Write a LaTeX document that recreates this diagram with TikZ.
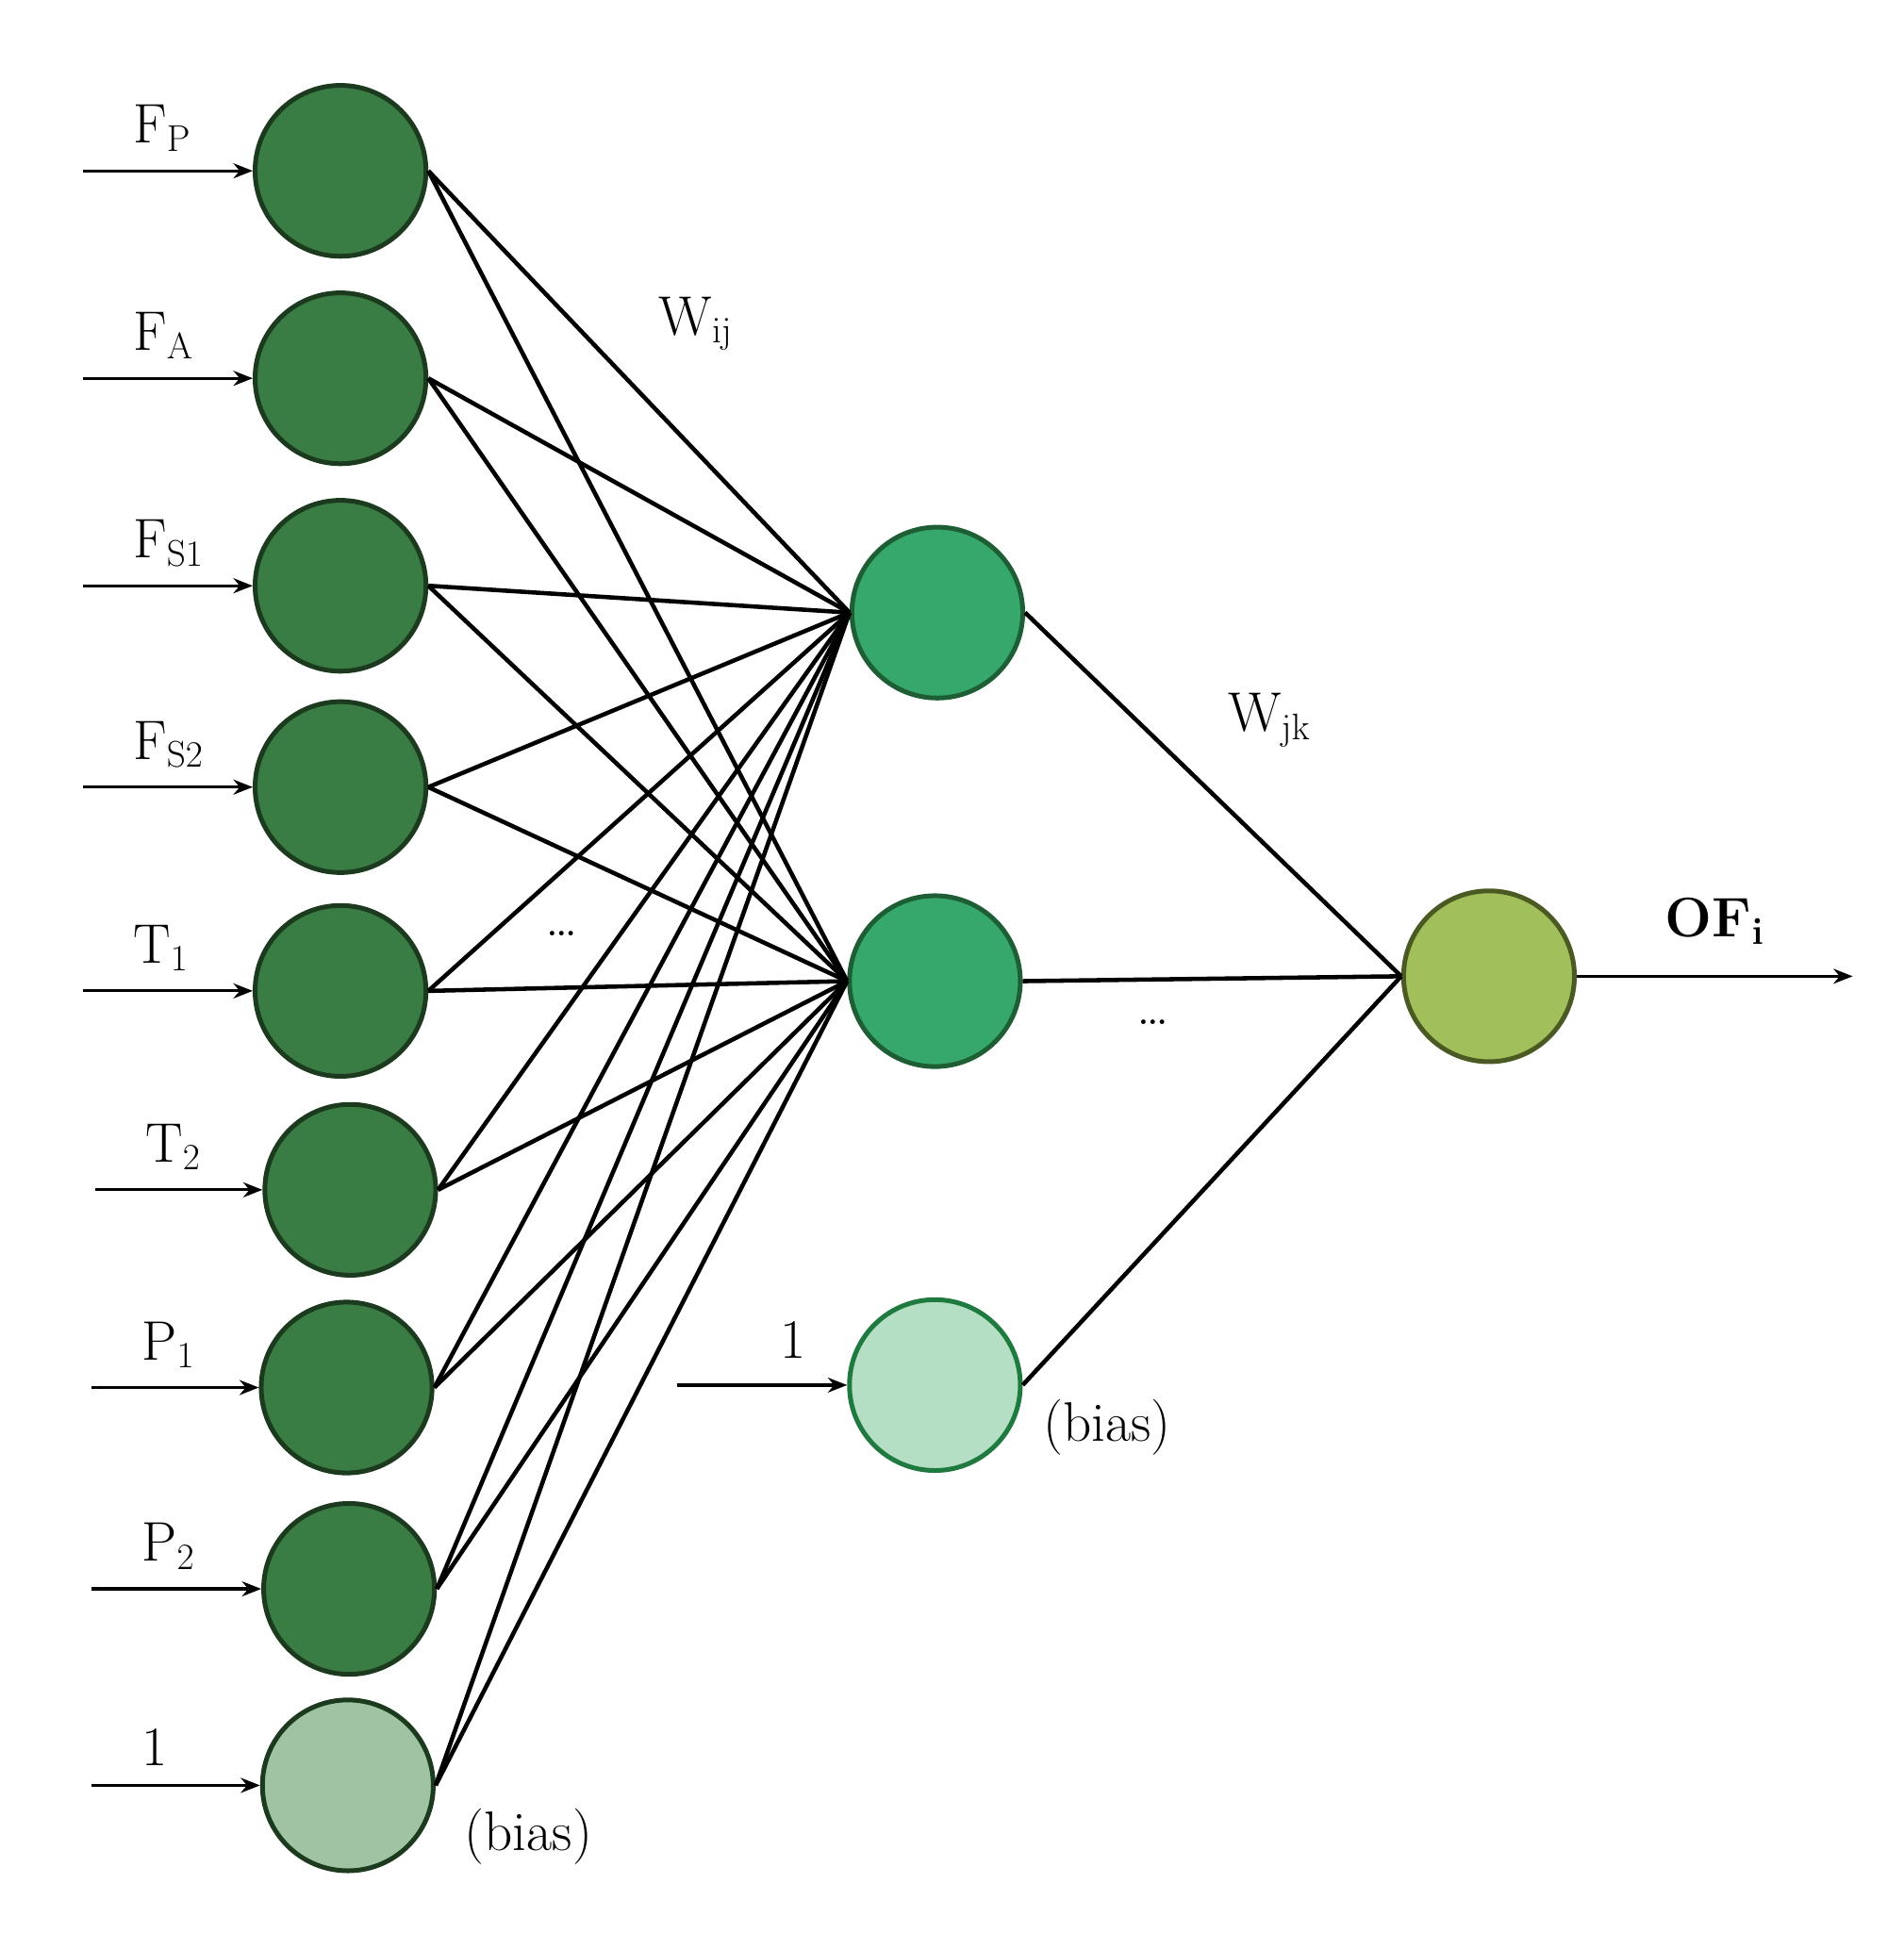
\documentclass[tikz,border=0pt]{standalone}
\usetikzlibrary{arrows.meta}
\definecolor{inp}{HTML}{3A7D44}
\definecolor{inpb}{HTML}{1B3A1E}
\definecolor{hid}{HTML}{36A86B}
\definecolor{hidb}{HTML}{1E5E35}
\definecolor{ib}{HTML}{A0C3A3}
\definecolor{hb}{HTML}{B4DFC4}
\definecolor{hbb}{HTML}{1F7A3F}
\definecolor{outc}{HTML}{A1C05B}
\definecolor{outb}{HTML}{4A5A22}
\begin{document}
\begin{tikzpicture}[x=0.02cm,y=-0.02cm,
  neu/.style={circle,minimum size=140*0.02cm,inner sep=0pt,line width=2.2pt},
  lab/.style={font=\fontsize{26}{28}\selectfont},
  w/.style={line width=2pt},
  arr/.style={line width=1.4pt,-{Stealth[length=9pt,width=7pt]}}]
\useasboundingbox (0,0) rectangle (1560,1584);
\foreach \n/\x/\y in {1/279/140,2/279/310,3/279/480,4/279/645,5/279/812,6/287/975,7/284/1137,8/286/1302}
  \node[neu,fill=inp,draw=inpb] (i\n) at (\x,\y) {};
\node[neu,fill=ib,draw=inpb] (i9) at (285,1463) {};
\node[neu,fill=hid,draw=hidb] (h1) at (768,502) {};
\node[neu,fill=hid,draw=hidb] (h2) at (766,804) {};
\node[neu,fill=hb,draw=hbb] (h3) at (766,1135) {};
\node[neu,fill=outc,draw=outb] (o) at (1220,800) {};
\foreach \n in {1,...,9}{\draw[w] (i\n.east) -- (h1.west); \draw[w] (i\n.east) -- (h2.west);}
\foreach \n in {1,2,3}{\draw[w] (h\n.east) -- (o.west);}
\foreach \n/\y/\x/\t in {1/140/68/{F$_{\mathrm P}$},2/310/68/{F$_{\mathrm A}$},3/480/68/{F$_{\mathrm{S1}}$},4/645/68/{F$_{\mathrm{S2}}$},5/812/68/{T$_1$},6/975/78/{T$_2$},7/1137/75/{P$_1$},8/1302/75/{P$_2$},9/1463/75/{1}}{
  \coordinate (s\n) at (\x,\y);
  \draw[arr] (s\n) -- (i\n.west);
  \node[lab,anchor=south west] at (\x+35,\y-10) {\t};}
\coordinate (sb) at (555,1135);
\draw[arr] (sb) -- (h3.west);
\node[lab] at (650,1098) {1};
\coordinate (oe) at (1518,800);
\draw[arr] (o.east) -- (oe);
\node[lab] at (1405,755) {\textbf{OF$_{\mathbf i}$}};
\node[lab] at (570,265) {W$_{\mathrm{ij}}$};
\node[lab] at (1040,590) {W$_{\mathrm{jk}}$};
\node[lab] at (460,765) {\dots};
\node[lab] at (945,838) {\dots};
\node[lab] at (433,1505) {(bias)};
\node[lab] at (907,1170) {(bias)};
\end{tikzpicture}
\end{document}
